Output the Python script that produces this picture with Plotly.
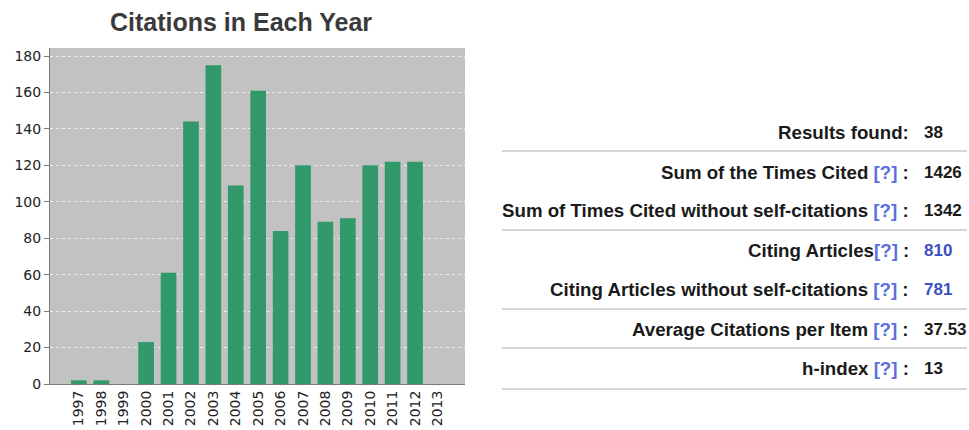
import plotly.graph_objects as go

years = ["1997", "1998", "1999", "2000", "2001", "2002", "2003", "2004", "2005",
         "2006", "2007", "2008", "2009", "2010", "2011", "2012", "2013"]
citations = [2, 2, 0, 23, 61, 144, 175, 109, 161, 84, 120, 89, 91, 120, 122, 122, 0]
y_ticks = [0, 20, 40, 60, 80, 100, 120, 140, 160, 180]

stat_labels = ["Results found:", "Sum of the Times Cited", "Sum of Times Cited without self-citations",
               "Citing Articles", "Citing Articles without self-citations",
               "Average Citations per Item", "h-index"]
stat_help = [False, True, True, True, True, True, True]
stat_help_space = [False, True, True, False, True, True, True]
stat_values = ["38", "1426", "1342", "810", "781", "37.53", "13"]
stat_value_blue = [False, False, False, True, True, False, False]
stat_row_y = [132, 172, 210, 250, 289, 329, 368]
rule_y = [151, 230, 309, 348, 389]

W, H = 969, 430
BLUE_HELP = "#5b6fe0"
BLUE_VAL = "#3d4fc4"

fig = go.Figure()
fig.add_trace(go.Bar(
    x=years, y=citations, marker=dict(color="#31996a", line=dict(width=0)),
    width=0.7, hoverinfo="x+y"))

fig.update_layout(
    width=W, height=H, margin=dict(l=0, r=0, t=0, b=0),
    paper_bgcolor="white", plot_bgcolor="#c2c2c2", showlegend=False,
    font=dict(family="DejaVu Sans", size=14, color="#222222"),
    title=dict(text="<b>Citations in Each Year</b>", x=241 / W, y=1 - 22 / H,
               xanchor="center", yanchor="middle",
               font=dict(family="Liberation Sans, Arial", size=25, color="#3a3a3a")),
    xaxis=dict(domain=[50 / W, 465 / W], type="category", range=[-1.29, 17.23],
               tickangle=-90, showgrid=False, showline=True, linecolor="#7a7a7a",
               linewidth=1, ticks="", automargin=False,
               tickfont=dict(family="DejaVu Sans", size=14, color="#222222")),
    yaxis=dict(domain=[1 - 384 / H, 1 - 48 / H], range=[0, 184.4],
               tickvals=y_ticks, showgrid=True, gridcolor="#eeeeee", griddash="3px,3px",
               gridwidth=1, showline=True, linecolor="#7a7a7a", linewidth=1,
               ticks="outside", ticklen=5, tickcolor="#7a7a7a", zeroline=False,
               automargin=False,
               tickfont=dict(family="DejaVu Sans", size=14, color="#222222")),
)

for ry in rule_y:
    fig.add_shape(type="line", xref="paper", yref="paper",
                  x0=502 / W, x1=967 / W, y0=1 - ry / H, y1=1 - ry / H,
                  line=dict(color="#d6d6d6", width=2))

for lab, hp, sp, val, vb, ry in zip(stat_labels, stat_help, stat_help_space,
                                     stat_values, stat_value_blue, stat_row_y):
    if hp:
        txt = "<b>" + lab + (" " if sp else "") + \
              f"<span style='color:{BLUE_HELP}'>[?]</span> :</b>"
    else:
        txt = "<b>" + lab + "</b>"
    fig.add_annotation(x=911 / W, y=1 - ry / H, xref="paper", yref="paper",
                       text=txt, showarrow=False, xanchor="right", yanchor="middle",
                       font=dict(family="Liberation Sans, Arial", size=18.7, color="#1a1a1a"))
    fig.add_annotation(x=922 / W, y=1 - ry / H, xref="paper", yref="paper",
                       text="<b>" + val + "</b>", showarrow=False, xanchor="left",
                       yanchor="middle",
                       font=dict(family="Liberation Sans, Arial", size=17,
                                 color=BLUE_VAL if vb else "#1a1a1a"))

fig.write_html("out.html", config={"displayModeBar": False},
               post_script="document.body.style.margin='0px';"
                           "document.body.style.overflow='hidden';")
